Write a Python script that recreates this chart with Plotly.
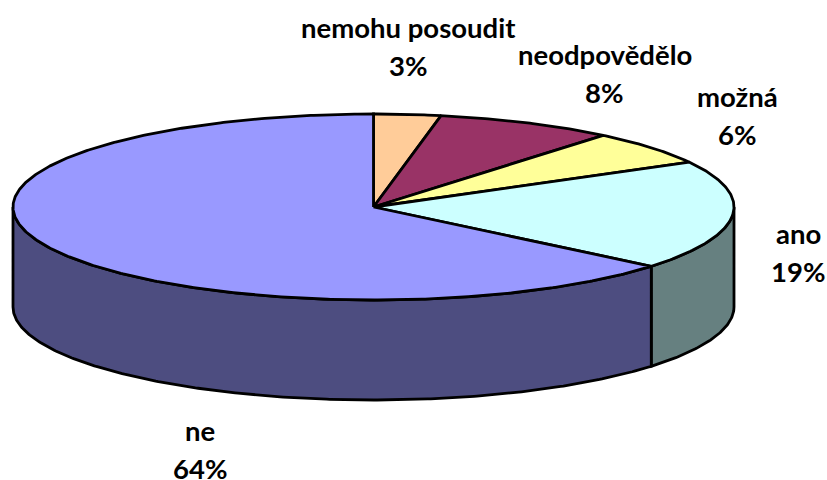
import numpy as np
import plotly.graph_objects as go

categories = ["nemohu posoudit", "neodpovědělo", "možná", "ano", "ne"]
values = [3, 8, 6, 19, 64]
top_colors = ["#FFCC99", "#993366", "#FFFF99", "#CCFFFF", "#9999FF"]
side_colors = ["#80664D", "#4D1A33", "#80804D", "#668080", "#4D4D80"]

W, H = 827, 480
CX, CY, RX, RY, DEPTH = 373.5, 207.0, 360.5, 93.0, 100.0
LINE = dict(color="#000000", width=2.8)
label_centers = {
    "nemohu posoudit": (408, 27), "neodpovědělo": (604.5, 54), "možná": (737, 96),
    "ano": (798, 233), "ne": (200, 430),
}
LABEL_GAP = 38


def arc(a, b, dy=0.0):
    t = np.radians(np.linspace(a, b, max(int(abs(b - a) * 2), 2)))
    return CX + RX * np.sin(t), CY + dy - RY * np.cos(t)


fig = go.Figure()
edges = np.cumsum([0] + values) / sum(values) * 360

# Side walls: only the front half (90..270 degrees) is visible
for i in range(len(values)):
    a, b = max(edges[i], 90), min(edges[i + 1], 270)
    if a >= b:
        continue
    x1, y1 = arc(a, b)
    x2, y2 = arc(b, a, DEPTH)
    fig.add_trace(go.Scatter(
        x=np.r_[x1, x2, x1[0]], y=np.r_[y1, y2, y1[0]], mode="lines", fill="toself",
        fillcolor=side_colors[i], line=LINE, hoverinfo="skip", showlegend=False))

# Top face slices
for i in range(len(values)):
    x, y = arc(edges[i], edges[i + 1])
    fig.add_trace(go.Scatter(
        x=np.r_[CX, x, CX], y=np.r_[CY, y, CY], mode="lines", fill="toself",
        fillcolor=top_colors[i], line=LINE,
        name=categories[i], hoverinfo="name", showlegend=False))

font = dict(family="Lato, Carlito, sans-serif", size=27.5, color="#000000", weight="bold")
for cat, val in zip(categories, values):
    lx, ly = label_centers[cat]
    for txt, yy in ((cat, ly), (f"{val}%", ly + LABEL_GAP)):
        fig.add_annotation(x=lx, y=yy, text=f"<b>{txt}</b>", showarrow=False,
                           font=font, xanchor="center", yanchor="middle")

fig.update_layout(
    width=W, height=H, margin=dict(l=0, r=0, t=0, b=0),
    paper_bgcolor="white", plot_bgcolor="white", showlegend=False,
    xaxis=dict(range=[0, W], visible=False, fixedrange=True),
    yaxis=dict(range=[H, 0], visible=False, fixedrange=True),
)
fig.write_html("out.html", config={"displayModeBar": False},
               post_script="document.body.style.margin='0';document.body.style.overflow='hidden';")
